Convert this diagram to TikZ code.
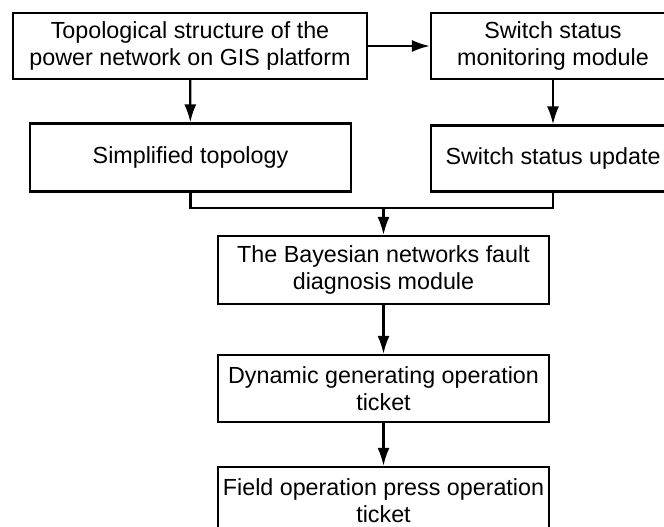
\documentclass[tikz,border=0pt]{standalone}
\usepackage{fontspec}
\setmainfont{Liberation Sans}
\usepackage{tikz}
\usetikzlibrary{shapes,arrows,arrows.meta}
\usetikzlibrary{positioning}

\tikzset{
  block/.style={draw, line width=2.2pt, align=center, inner sep=0pt,
    font=\fontsize{23.3}{27}\selectfont},
  link/.style={line width=2.2pt, -{Latex[length=18pt,width=12pt]}},
  bus/.style={line width=2.2pt}
}

\begin{document}
\begin{tikzpicture}[x=1pt,y=-1pt]
			\useasboundingbox (0,0) rectangle (664,527);
			% top row
			\node[block, minimum width=354pt, minimum height=66pt] (topo) at (190,46)
			  {Topological structure of the\\power network on GIS platform};
			\node[block, minimum width=244pt, minimum height=66pt] (monitor) at (553,46)
			  {Switch status\\monitoring module};
			% second row
			\node[block, minimum width=321pt, minimum height=68pt] (simple) at (190.5,157.5)
			  {Simplified topology};
			\node[block, minimum width=244pt, minimum height=66pt] (update) at (553,158.5)
			  {Switch status update};
			% main chain
			\node[block, minimum width=331pt, minimum height=68pt] (bayes) at (383.5,270)
			  {The Bayesian networks fault\\diagnosis module};
			\node[block, minimum width=331pt, minimum height=67pt] (dynamic) at (383.5,388.5)
			  {Dynamic generating operation\\ticket};
			\node[block, minimum width=331pt, minimum height=67pt] (field) at (383.5,500.5)
			  {Field operation press operation\\ticket};

			\coordinate (join) at (bayes.north |- 0,208);

			\draw[link] (topo) -- (monitor);
			\draw[link] (topo) -- (simple);
			\draw[link] (monitor) -- (update);
			\draw[bus] (simple.south) |- (join) -| (update.south);
			\draw[link] (join) -- (bayes);
			\draw[link] (bayes) -- (dynamic);
			\draw[link] (dynamic) -- (field);
\end{tikzpicture}
\end{document}
